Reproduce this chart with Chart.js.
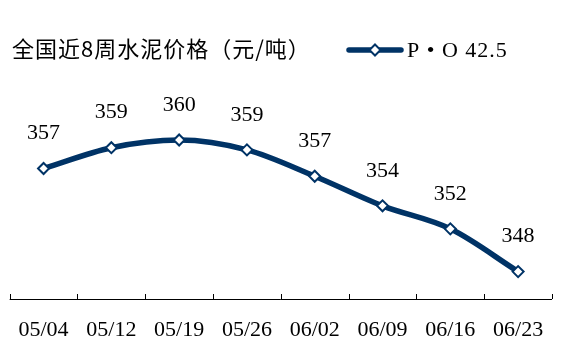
<!DOCTYPE html>
<html><head><meta charset="utf-8">
<script src="https://cdn.jsdelivr.net/npm/chart.js@4"></script>
<style>html,body{margin:0;padding:0;background:#fff}#wrap{width:568px;height:356px}</style>
</head><body><div id="wrap"><canvas id="c" width="568" height="356"></canvas></div>
<script>
const categories = ["05/04","05/12","05/19","05/26","06/02","06/09","06/16","06/23"];
const prices = [357.4, 359.3, 360.0, 359.1, 356.7, 354.0, 351.9, 348.0];
const priceLabels = ["357","359","360","359","357","354","352","348"];
const titleText = "全国近8周水泥价格（元/吨）";
const seriesName = "P • O 42.5";
const navy = "#003366";

const overlay = {
  id: "overlay",
  afterDraw(chart) {
    const ctx = chart.ctx;
    const x = chart.scales.x;
    const area = chart.chartArea;
    ctx.save();
    ctx.strokeStyle = "#000"; ctx.lineWidth = 1;
    for (let i = 0; i <= categories.length; i++) {
      const px = Math.round(x.getPixelForValue(i - 0.5)) + 0.5;
      ctx.beginPath(); ctx.moveTo(px, area.bottom - 5); ctx.lineTo(px, area.bottom); ctx.stroke();
    }
    ctx.beginPath(); ctx.moveTo(area.left, area.bottom + 0.5); ctx.lineTo(area.right, area.bottom + 0.5); ctx.stroke();
    const meta = chart.getDatasetMeta(0);
    ctx.fillStyle = "#000";
    ctx.font = '22px "Liberation Serif"';
    ctx.textAlign = "center"; ctx.textBaseline = "middle";
    meta.data.forEach((pt, i) => {
      ctx.fillText(priceLabels[i], pt.x, pt.y - 35);
    });
    ctx.textAlign = "left";
    ctx.font = '22px "Noto Sans CJK SC"';
    ctx.letterSpacing = "1px";
    ctx.fillText(titleText, 12, 49);
    ctx.strokeStyle = navy; ctx.lineWidth = 5.5; ctx.lineCap = "round";
    ctx.beginPath(); ctx.moveTo(349, 50); ctx.lineTo(401, 50); ctx.stroke();
    ctx.lineCap = "butt";
    ctx.fillStyle = "#fff"; ctx.lineWidth = 2;
    ctx.beginPath(); ctx.moveTo(375, 44.5); ctx.lineTo(380.5, 50); ctx.lineTo(375, 55.5); ctx.lineTo(369.5, 50); ctx.closePath();
    ctx.fill(); ctx.stroke();
    ctx.fillStyle = "#000";
    ctx.font = '22px "Liberation Serif"';
    ctx.fillText(seriesName, 407, 51);
    ctx.letterSpacing = "0px";
    ctx.restore();
  }
};

new Chart(document.getElementById("c"), {
  type: "line",
  data: {
    labels: categories,
    datasets: [{
      data: prices,
      borderColor: navy,
      borderWidth: 5.5,
      tension: 0.4,
      cubicInterpolationMode: "monotone",
      pointStyle: "rectRot",
      pointRadius: 5.5,
      pointBackgroundColor: "#fff",
      pointBorderColor: navy,
      pointBorderWidth: 2
    }]
  },
  options: {
    responsive: false,
    animation: false,
    layout: { padding: { left: 8, right: 16, top: 60, bottom: 12 } },
    plugins: { legend: { display: false }, title: { display: false }, tooltip: { enabled: false } },
    scales: {
      x: {
        offset: true,
        grid: { display: false, drawTicks: false },
        border: { display: false },
        ticks: { color: "#000", font: { family: "Liberation Serif", size: 22 }, padding: 18, maxRotation: 0 },
        afterFit: (s) => { s.height = 45; }
      },
      y: { display: false, min: 345.5, max: 367.3 }
    }
  },
  plugins: [overlay]
});
</script></body></html>
